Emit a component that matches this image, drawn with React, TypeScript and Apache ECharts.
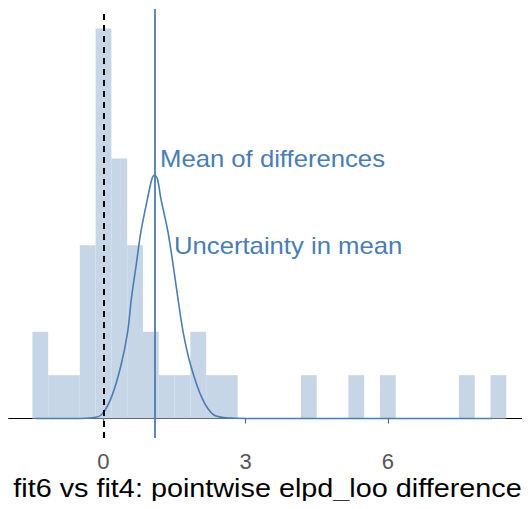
import React, { useEffect, useRef } from "react";
import * as echarts from "echarts";

// Histogram of pointwise elpd_loo differences (fit6 - fit4), 30 bins of width 1/3
const binStart = -1.5;
const binWidth = 1 / 3;
const binCounts = [
  2, 1, 1, 4, 9, 6, 4, 2, 1, 1,
  2, 1, 1, 0, 0, 0, 0, 1, 0, 0,
  1, 0, 1, 0, 0, 0, 0, 1, 0, 1,
];

// Mean of the differences
const meanDiff = 1.09;

// Scaled density of the uncertainty in the mean
const curveX = [
  -1.43, -0.6, -0.3, -0.05, 0.16, 0.37, 0.51, 0.59, 0.69, 0.79, 0.93, 1.02, 1.08,
  1.14, 1.21, 1.36, 1.47, 1.57, 1.68, 1.84, 2.08, 2.33, 2.7, 3.2, 8.2,
];
const curveY = [
  0, 0.0, 0.01, 0.08, 0.47, 1.23, 2.0, 2.78, 3.54, 4.31, 5.08, 5.52, 5.62,
  5.52, 5.08, 4.31, 3.54, 2.78, 2.0, 1.23, 0.47, 0.08, 0.01, 0, 0,
];

const tickValues = [0, 3, 6];
const xTitle = "fit6 vs fit4: pointwise elpd_loo difference";
const meanLabel = "Mean of differences";
const uncertaintyLabel = "Uncertainty in mean";

const BAR_COLOR = "#c6d6e6";
const LINE_COLOR = "#4a7db3";
const FONT = '"Liberation Sans", Arial, sans-serif';

export default function App() {
  const ref = useRef<HTMLDivElement>(null);

  useEffect(() => {
    if (!ref.current) return;
    const chart = echarts.init(ref.current, undefined, { renderer: "svg" });

    const bins = binCounts.map((c, i) => [
      binStart + i * binWidth,
      binStart + (i + 1) * binWidth,
      c,
    ]);
    const curve = curveX.map((x, i) => [x, curveY[i]]);

    chart.setOption({
      animation: false,
      textStyle: { fontFamily: FONT },
      grid: { left: 8.7, top: 9, width: 524.4, height: 429 },
      xAxis: {
        type: "value",
        min: -2,
        max: 9,
        splitLine: { show: false },
        axisLine: { show: true, lineStyle: { color: "#000", width: 1 } },
        axisTick: {
          show: true,
          customValues: tickValues,
          length: 5,
          lineStyle: { color: "#666", width: 1.2 },
        },
        axisLabel: {
          customValues: tickValues,
          color: "#555",
          fontSize: 22,
          margin: 12,
        },
      },
      yAxis: {
        type: "value",
        min: -0.45,
        max: 9.45,
        show: false,
      },
      series: [
        {
          type: "custom",
          data: bins,
          encode: { x: [0, 1], y: 2 },
          z: 1,
          renderItem: (params: any, api: any) => {
            const count = api.value(2);
            if (!count) return null;
            const p0 = api.coord([api.value(0), count]);
            const p1 = api.coord([api.value(1), 0]);
            return {
              type: "rect",
              shape: {
                x: p0[0],
                y: p0[1],
                width: p1[0] - p0[0],
                height: p1[1] - p0[1],
              },
              style: { fill: BAR_COLOR },
            };
          },
        },
        {
          type: "line",
          data: curve,
          showSymbol: false,
          smooth: 0.3,
          z: 3,
          lineStyle: { color: LINE_COLOR, width: 1.6 },
          markLine: {
            symbol: "none",
            silent: true,
            label: { show: false },
            data: [
              {
                xAxis: 0,
                lineStyle: { color: "#000", width: 2, type: [6, 5] },
              },
              {
                xAxis: meanDiff,
                lineStyle: { color: LINE_COLOR, width: 1.8, type: "solid" },
              },
            ],
          },
        },
      ],
      graphic: [
        {
          type: "text",
          x: 160,
          y: 159,
          scaleX: 1.07,
          style: {
            text: meanLabel,
            fill: LINE_COLOR,
            font: `24px ${FONT}`,
            verticalAlign: "middle",
          },
        },
        {
          type: "text",
          x: 174,
          y: 245.5,
          scaleX: 1.07,
          style: {
            text: uncertaintyLabel,
            fill: LINE_COLOR,
            font: `24px ${FONT}`,
            verticalAlign: "middle",
          },
        },
        {
          type: "text",
          x: 267.5,
          y: 488,
          scaleX: 1.13,
          style: {
            text: xTitle,
            fill: "#000",
            font: `25.5px ${FONT}`,
            align: "center",
            verticalAlign: "middle",
          },
        },
      ],
    });

    return () => chart.dispose();
  }, []);

  return <div ref={ref} style={{ width: 530, height: 509, margin: -8 }} />;
}
